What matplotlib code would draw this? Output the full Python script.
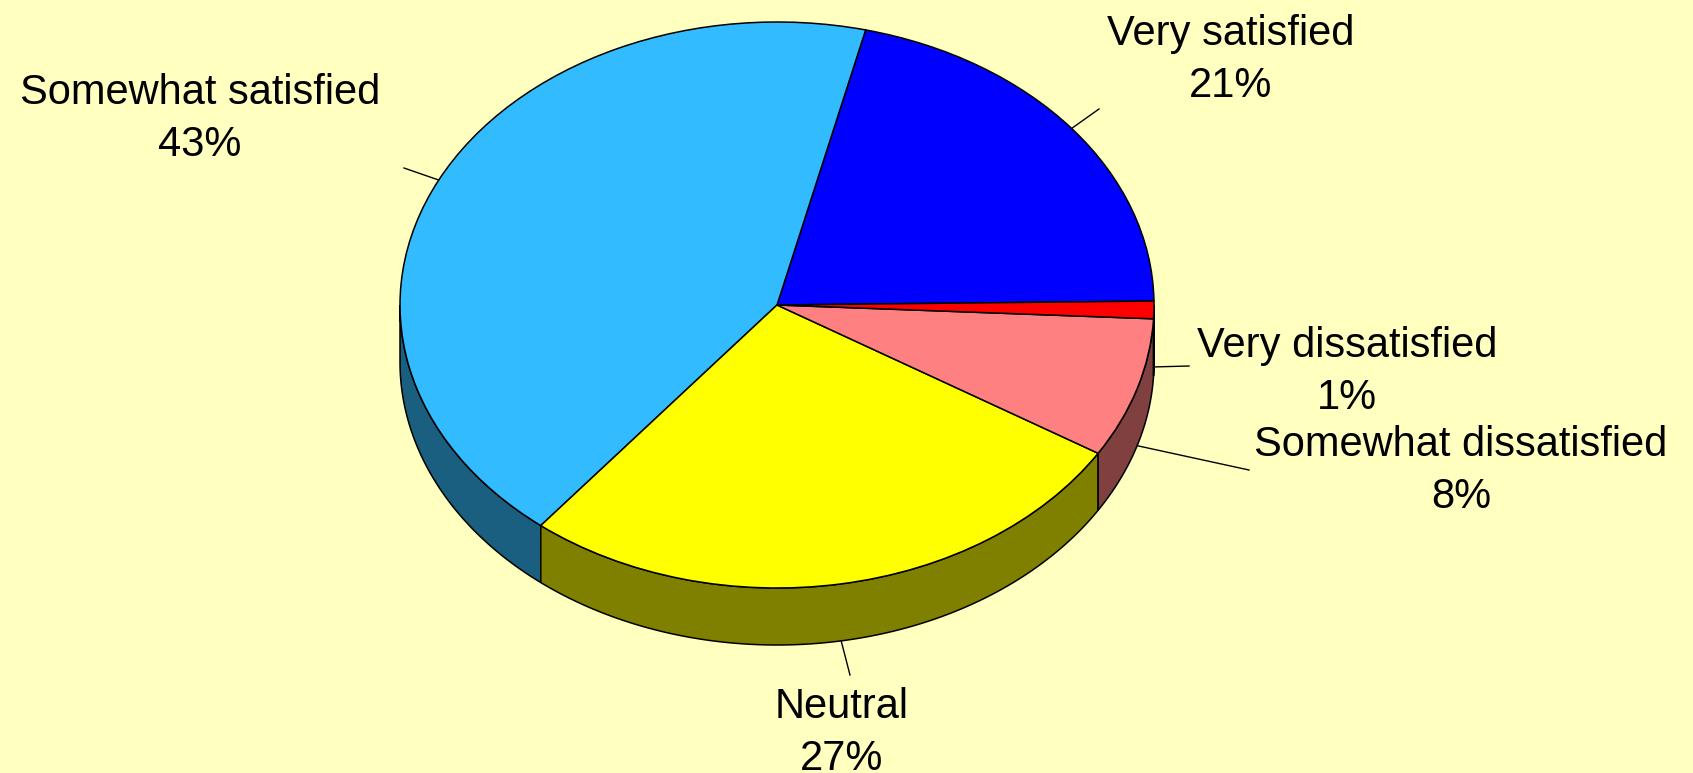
import matplotlib.pyplot as plt
import numpy as np

categories = ['Very satisfied', 'Somewhat satisfied', 'Neutral',
              'Somewhat dissatisfied', 'Very dissatisfied']
shares = [21, 43, 27, 8, 1]
pct_labels = ['21%', '43%', '27%', '8%', '1%']
top_colors = ['#0000FF', '#33BBFF', '#FFFF00', '#FF8080', '#FF0000']
side_colors = ['#000080', '#1A5E80', '#808000', '#804040', '#800000']
BG = '#FFFFBF'

# layout, in pixels of the 1693x773 picture
W, H = 1693, 773
CX, CY = 777, 305
RX, RY = 377, 283
DEPTH = 57
label_xy = [(1231, 45), (200, 104), (842, 718), (1461, 456), (1347, 357)]
leader_end = [(1099, 109), (404, 168), (850, 675), (1249, 470), (1189, 366)]
LINE_GAP = 52


def px(x, y):
    # pixel position -> data units (1 unit = one radius on each axis)
    return (x - CX) / RX, (CY - y) / RY


def main():
    fig = plt.figure(figsize=(W / 100, H / 100), dpi=100, facecolor=BG)
    ax = fig.add_axes([0, 0, 1, 1])
    ax.set_facecolor(BG)

    wedges, _ = ax.pie(shares, colors=top_colors, startangle=0.8,
                       counterclock=True, radius=1, center=(0, 0),
                       wedgeprops=dict(edgecolor='black', linewidth=1.1, zorder=3))
    ax.set_aspect('auto')
    ax.set_xlim(px(0, 0)[0], px(W, 0)[0])
    ax.set_ylim(px(0, H)[1], px(0, 0)[1])
    ax.axis('off')

    d = DEPTH / RY
    # side wall for the front half of the pie
    for w, sc in zip(wedges, side_colors):
        a = max(w.theta1, 180)
        b = min(w.theta2, 360)
        if b <= a:
            continue
        th = np.radians(np.linspace(a, b, 200))
        xs = np.cos(th)
        ys = np.sin(th)
        ax.fill(np.concatenate([xs, xs[::-1]]),
                np.concatenate([ys, ys[::-1] - d]),
                facecolor=sc, edgecolor='black', linewidth=1.1, zorder=2)

    for w, name, pct, (lx, ly), (ex, ey) in zip(wedges, categories, pct_labels,
                                                label_xy, leader_end):
        mid = np.radians((w.theta1 + w.theta2) / 2)
        sx, sy = np.cos(mid), np.sin(mid)
        if sy < 0:
            sy -= d
        exd, eyd = px(ex, ey)
        ax.plot([sx, exd], [sy, eyd], color='black', lw=1.0, zorder=4)
        tx, ty = px(lx, ly)
        ax.text(tx, ty, name, ha='center', va='baseline', fontsize=30,
                family='Liberation Sans', color='black')
        tx, ty = px(lx, ly + LINE_GAP)
        ax.text(tx, ty, pct, ha='center', va='baseline', fontsize=30,
                family='Liberation Sans', color='black')

    fig.savefig('out.png', dpi=100, facecolor=BG)


if __name__ == '__main__':
    main()
